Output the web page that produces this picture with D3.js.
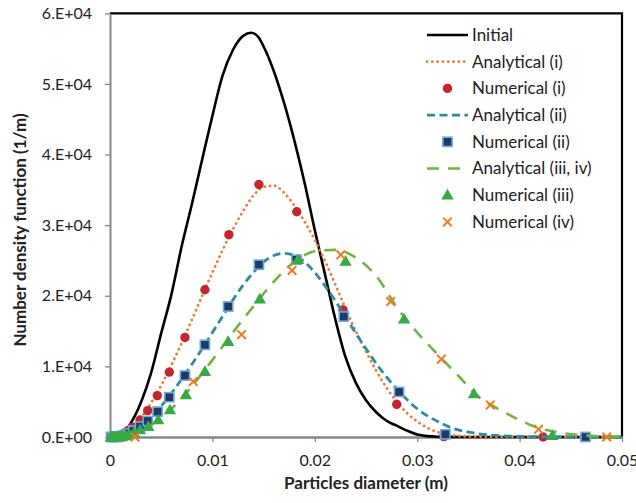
<!DOCTYPE html>
<html><head><meta charset="utf-8">
<script src="https://cdn.jsdelivr.net/npm/d3@7"></script>
<style>
body{margin:0;background:#fff}
svg{display:block}
text{font-family:Lato,"Open Sans","DejaVu Sans",sans-serif;fill:#222}
</style>
</head><body>
<svg id="chart" width="636" height="503"></svg>
<script>
// ---------- data ----------
const xTicks = [0, 0.01, 0.02, 0.03, 0.04, 0.05];
const xTickLabels = ["0", "0.01", "0.02", "0.03", "0.04", "0.05"];
const yTicks = [0, 10000, 20000, 30000, 40000, 50000, 60000];
const yTickLabels = ["0.E+00", "1.E+04", "2.E+04", "3.E+04", "4.E+04", "5.E+04", "6.E+04"];

const initX = [0,0.001,0.002,0.003,0.004,0.005,0.006,0.007,0.008,0.009,0.010,0.011,0.012,0.013,0.0138,0.0145,0.015,0.016,0.017,0.018,0.019,0.020,0.021,0.022,0.023,0.024,0.025,0.026,0.027,0.028,0.029,0.030,0.031,0.032,0.034,0.036,0.040,0.045,0.050];
const initY = [0,300,1900,4800,9000,14700,20200,27000,33000,39300,45500,51200,54800,56800,57250,56600,55300,51800,47300,42000,36000,29300,23000,16700,11300,7700,5200,3500,2300,1600,900,350,120,40,10,0,0,0,0];

const anaIX = [0,0.001,0.002,0.003,0.004,0.005,0.006,0.007,0.008,0.009,0.010,0.011,0.012,0.013,0.014,0.015,0.016,0.017,0.018,0.019,0.020,0.021,0.022,0.023,0.024,0.025,0.026,0.027,0.028,0.029,0.030,0.031,0.032,0.033,0.034,0.036,0.040,0.045,0.050];
const anaIY = [0,200,1100,2700,4800,7300,10200,13300,16600,20000,23300,26500,29400,32000,34200,35400,35600,34600,32800,30500,27900,24900,21600,18200,15000,12100,9400,7000,5000,3400,2200,1300,700,350,150,40,0,0,0];

const numIX = [0.00045,0.00056,0.0007,0.0009,0.0011,0.0014,0.00175,0.0022,0.00293,0.00368,0.00462,0.00579,0.00732,0.00927,0.01161,0.01454,0.01824,0.02276,0.0280,0.0326,0.0423];
const numIY = [10,30,70,150,300,550,900,1400,2410,3730,5860,9180,14100,20850,28650,35750,31900,18000,4630,50,0];

const anaIIX = [0,0.001,0.002,0.003,0.004,0.005,0.006,0.007,0.008,0.009,0.010,0.011,0.012,0.013,0.014,0.015,0.016,0.017,0.018,0.019,0.020,0.021,0.022,0.023,0.024,0.025,0.026,0.027,0.028,0.029,0.030,0.031,0.032,0.033,0.034,0.035,0.036,0.038,0.040,0.044,0.050];
const anaIIY = [0,100,650,1600,2900,4400,6200,8200,10300,12500,14800,17100,19400,21500,23300,24800,25700,26000,25700,24800,23300,21400,19300,17000,14700,12500,10400,8500,6800,5300,4000,3000,2200,1500,1000,700,450,200,80,20,0];

const numIIX = [0.0001,0.0003,0.0006,0.00075,0.00093,0.00117,0.00146,0.0018,0.00228,0.00293,0.00368,0.00465,0.00579,0.00732,0.00927,0.01154,0.01454,0.01821,0.02283,0.02823,0.03275,0.04644];
const numIIY = [0,0,10,30,70,150,290,500,890,1460,2270,3590,5630,8700,13050,18480,24400,25100,17060,6380,380,0];

const anaIIIX = [0,0.001,0.002,0.003,0.004,0.005,0.006,0.007,0.008,0.009,0.010,0.012,0.014,0.016,0.018,0.020,0.022,0.024,0.026,0.028,0.030,0.032,0.034,0.036,0.038,0.040,0.042,0.044,0.046,0.048,0.050];
const anaIIIY = [0,60,350,900,1700,2700,4000,5500,7200,9000,10900,14800,18500,22000,24800,26300,26500,25400,22800,18400,14800,11700,8700,5700,3900,2400,1200,600,250,80,20];

const numIIIX = [0.0001,0.00015,0.0002,0.00025,0.0003,0.00039,0.00049,0.00061,0.00077,0.00096,0.0012,0.0015,0.00187,0.00234,0.00293,0.00374,0.00471,0.00585,0.00741,0.00927,0.01154,0.01463,0.01837,0.023,0.02872,0.03554,0.0432];
const numIIIY = [0,0,0,1,2,3,5,10,25,50,100,200,350,600,990,1460,2410,3830,5960,9260,13520,19530,25100,24870,16700,6100,200];

const numIVX = [0.00244,0.00813,0.01285,0.01778,0.02254,0.02741,0.03236,0.03714,0.04185,0.04851];
const numIVY = [0,7850,14510,23590,25800,19190,11020,4540,1090,0];

const legendLabels = ["Initial","Analytical (i)","Numerical (i)","Analytical (ii)","Numerical (ii)","Analytical (iii, iv)","Numerical (iii)","Numerical (iv)"];

// ---------- chart ----------
const svg = d3.select("#chart");
const L = 110, R = 622, T = 13.3, B = 437;
const x = d3.scaleLinear().domain([0, 0.05]).range([L, R]);
const y = d3.scaleLinear().domain([0, 60000]).range([B, T]);

const zip = (xs, ys) => xs.map((v, i) => [v, ys[i]]);

// frame (top & right black)
svg.append("path").attr("d", `M${L},${T}H${R}V${B}`).attr("fill","none").attr("stroke","#000").attr("stroke-width",2.2);

// axes
const yAxis = d3.axisLeft(y).tickValues(yTicks).tickFormat((d,i)=>yTickLabels[i]).tickSize(5).tickSizeOuter(0).tickPadding(13);
const gy = svg.append("g").attr("transform", `translate(${L},0)`).call(yAxis);
gy.select(".domain").attr("stroke","#878787").attr("stroke-width",2);
gy.selectAll(".tick line").attr("stroke","#878787").attr("stroke-width",1.3);
gy.selectAll(".tick text").attr("font-size",16).attr("fill","#222").style("font-family","Lato");

const xAxis = d3.axisBottom(x).tickValues(xTicks).tickFormat((d,i)=>xTickLabels[i]).tickSize(5).tickSizeOuter(0).tickPadding(13);
const gx = svg.append("g").attr("transform", `translate(0,${B})`).call(xAxis);
gx.select(".domain").attr("stroke","#878787").attr("stroke-width",2.6);
gx.selectAll(".tick line").attr("stroke","#878787").attr("stroke-width",1.3);
gx.selectAll(".tick text").attr("font-size",16).attr("fill","#222").style("font-family","Lato");

// titles
svg.append("text").attr("x",(L+R)/2).attr("y",489).attr("text-anchor","middle")
  .attr("font-size",17).attr("font-weight","bold").text("Particles diameter (m)");
svg.append("text").attr("transform",`translate(26,230) rotate(-90)`).attr("text-anchor","middle")
  .attr("font-size",17).attr("font-weight","bold").text("Number density function (1/m)");

// styles
const styles = {
  init: {stroke:"#000", width:2.6, dash:null, cap:"butt"},
  anaI: {stroke:"#ED7D31", width:2.8, dash:"0.1 5.2", cap:"round"},
  anaII: {stroke:"#2E8AA0", width:2.8, dash:"8 4.5", cap:"butt"},
  anaIII: {stroke:"#6FB43F", width:2.6, dash:"12 9", cap:"butt"}
};
const line = d3.line().x(d=>x(d[0])).y(d=>y(d[1])).curve(d3.curveMonotoneX);
function drawLine(data, st) {
  svg.append("path").datum(data).attr("d", line).attr("fill","none")
    .attr("stroke", st.stroke).attr("stroke-width", st.width)
    .attr("stroke-dasharray", st.dash).attr("stroke-linecap", st.cap);
}
function marker(g, type, cx, cy) {
  if (type === "circle") {
    g.append("circle").attr("cx",cx).attr("cy",cy).attr("r",4.7).attr("fill","#C3262E");
  } else if (type === "square") {
    g.append("rect").attr("x",cx-4.6).attr("y",cy-4.6).attr("width",9.2).attr("height",9.2)
      .attr("fill","#1B3A66").attr("stroke","#77A7DC").attr("stroke-width",1.6);
  } else if (type === "triangle") {
    g.append("path").attr("d", d3.symbol().type(d3.symbolTriangle).size(66)()).attr("transform",`translate(${cx},${cy+0.8})`)
      .attr("fill","#37AA46");
  } else if (type === "cross") {
    g.append("path").attr("d",`M${cx-4.3},${cy-4.3}L${cx+4.3},${cy+4.3}M${cx-4.3},${cy+4.3}L${cx+4.3},${cy-4.3}`)
      .attr("stroke","#F07A22").attr("stroke-width",2).attr("fill","none");
  }
}
function drawMarkers(data, type) {
  const g = svg.append("g");
  data.forEach(d => marker(g, type, x(d[0]), y(d[1])));
}

drawLine(zip(initX, initY), styles.init);
drawLine(zip(anaIX, anaIY), styles.anaI);
drawMarkers(zip(numIX, numIY), "circle");
drawLine(zip(anaIIX, anaIIY), styles.anaII);
drawMarkers(zip(numIIX, numIIY), "square");
drawLine(zip(anaIIIX, anaIIIY), styles.anaIII);
drawMarkers(zip(numIIIX, numIIIY), "triangle");
drawMarkers(zip(numIVX, numIVY), "cross");

// legend
const legendKinds = [["line","init"],["line","anaI"],["marker","circle"],["line","anaII"],["marker","square"],["line","anaIII"],["marker","triangle"],["marker","cross"]];
const lg = svg.append("g");
legendLabels.forEach((lab, i) => {
  const yy = 35 + i * 26.7;
  const k = legendKinds[i];
  if (k[0] === "line") {
    const st = styles[k[1]];
    lg.append("line").attr("x1",427).attr("x2",468).attr("y1",yy).attr("y2",yy)
      .attr("stroke",st.stroke).attr("stroke-width",st.width).attr("stroke-dasharray",st.dash).attr("stroke-linecap",st.cap);
  } else {
    marker(lg, k[1], 447.5, yy);
  }
  lg.append("text").attr("x",472).attr("y",yy).attr("dy","0.35em").attr("font-size",17).text(lab);
});
</script>
</body></html>
